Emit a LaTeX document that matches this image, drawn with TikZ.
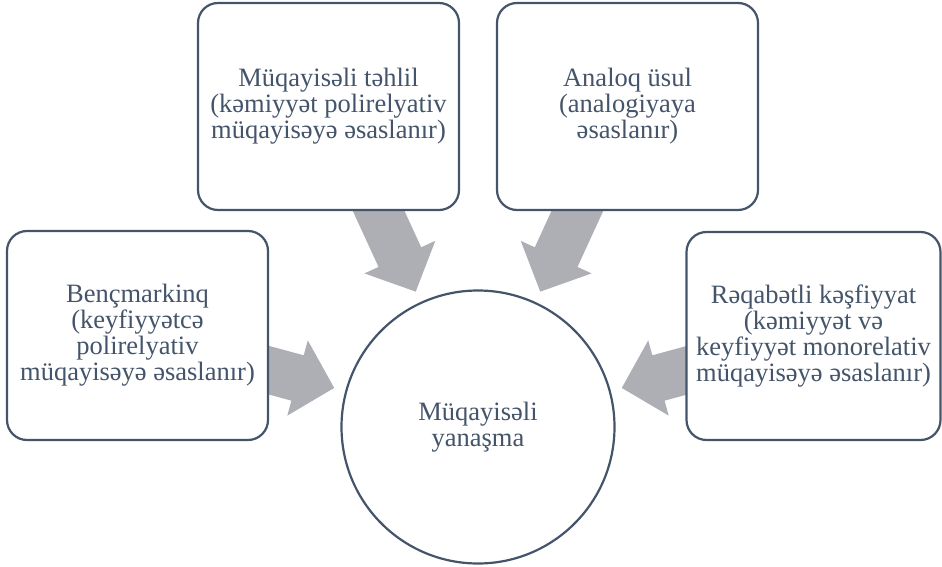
\documentclass[tikz,border=0pt]{standalone}
\usepackage{fontspec}
\setmainfont{Liberation Serif}
\usetikzlibrary{calc}
\definecolor{slate}{RGB}{68,84,106}
\definecolor{arrowgrey}{RGB}{173,175,181}
\tikzset{
  boxnode/.style={draw=slate, line width=2.2pt, fill=white, rounded corners=20pt,
    inner sep=0pt, align=center, text=slate,
    font=\fontsize{26.5}{26}\selectfont},
  hubnode/.style={draw=slate, line width=2.2pt, fill=white, circle,
    inner sep=0pt, align=center, text=slate,
    font=\fontsize{26.5}{26}\selectfont},
  blockarrow/.style={fill=arrowgrey, draw=none}
}
\begin{document}
\begin{tikzpicture}[x=1pt,y=-1pt]
\useasboundingbox (0,0) rectangle (942,567);
\coordinate (c) at (478,427);
% block arrows (pointing at the hub)
\foreach \a in {245.3,294.7,195.2,344.8}{
  \fill[blockarrow]
    ($(c)+(\a:149)$)
    -- ($(c)+(\a:187)+(\a+90:39)$)
    -- ($(c)+(\a:187)+(\a+90:23.5)$)
    -- ($(c)+(\a:270)+(\a+90:23.5)$)
    -- ($(c)+(\a:270)+(\a-90:23.5)$)
    -- ($(c)+(\a:187)+(\a-90:23.5)$)
    -- ($(c)+(\a:187)+(\a-90:39)$)
    -- cycle;
}
\node[hubnode, minimum size=273pt] (hub) at (c) {Müqayisəli\\yanaşma};
\node[boxnode, minimum width=261pt, minimum height=207pt] (tl) at (328.5,106.5)
  {Müqayisəli təhlil\\(kəmiyyət polirelyativ\\müqayisəyə əsaslanır)};
\node[boxnode, minimum width=261pt, minimum height=207pt] (tr) at (627.5,106.5)
  {Analoq üsul\\(analogiyaya\\əsaslanır)};
\node[boxnode, minimum width=261pt, minimum height=209pt] (lb) at (137.5,335.5)
  {Bençmarkinq\\(keyfiyyətcə\\polirelyativ\\müqayisəyə əsaslanır)};
\node[boxnode, minimum width=254pt, minimum height=208pt] (rb) at (813.5,336)
  {Rəqabətli kəşfiyyat\\(kəmiyyət və\\keyfiyyət monorelativ\\müqayisəyə əsaslanır)};
\end{tikzpicture}
\end{document}
